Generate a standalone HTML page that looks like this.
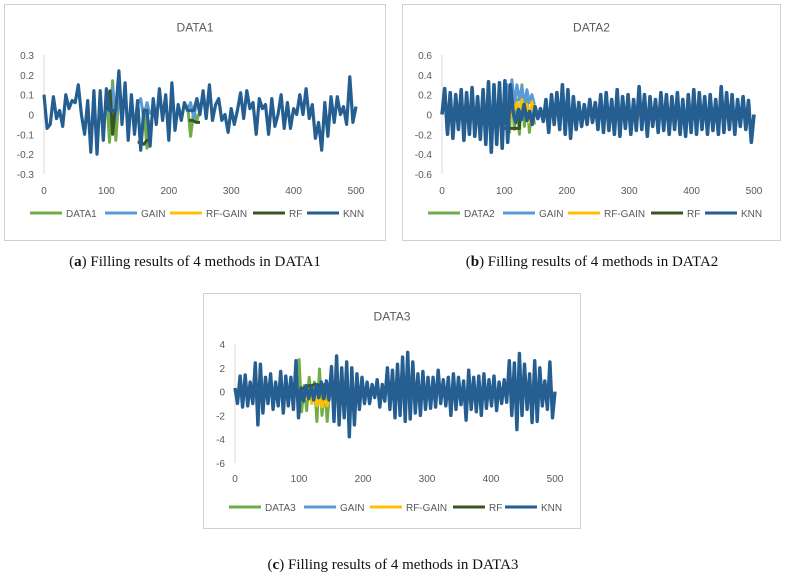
<!DOCTYPE html>
<html><head><meta charset="utf-8">
<style>
body{margin:0;background:#fff;width:785px;height:582px;overflow:hidden;font-family:"Liberation Sans",sans-serif}
svg{position:absolute;left:0;top:0}
.cap{position:absolute;font-family:"Liberation Serif",serif;font-size:15px;color:#111;white-space:nowrap;transform:translateX(-50%)}
</style></head><body>
<svg id="fig" width="785" height="582"></svg>
<div class="cap" style="left:195px;top:254px">(<b>a</b>) Filling results of 4 methods in DATA1</div>
<div class="cap" style="left:592px;top:254px">(<b>b</b>) Filling results of 4 methods in DATA2</div>
<div class="cap" style="left:393px;top:557px">(<b>c</b>) Filling results of 4 methods in DATA3</div>
<script>
// ---- DATA1 ----
const knn1=[0.1,-0.07,-0.05,0.09,-0.02,0.02,-0.06,0.1,0.03,0.07,0.06,0.15,0.0,-0.1,0.07,-0.19,0.12,-0.2,0.12,-0.13,0.13,0.02,0.02,0.02,0.22,-0.05,0.16,-0.13,0.1,-0.1,0.07,-0.18,0.02,0.02,-0.16,0.08,-0.05,0.13,-0.03,0.1,-0.13,0.16,-0.08,0.05,-0.03,0.06,0.02,0.02,0.02,0.08,0.0,0.12,-0.02,0.15,-0.03,0.05,0.08,-0.03,0.0,-0.09,0.03,-0.05,0.02,0.11,-0.02,0.12,0.03,0.06,-0.1,0.08,0.03,0.05,-0.1,0.08,-0.06,0.0,0.1,-0.07,0.06,-0.07,0.03,0.0,0.1,0.0,0.13,-0.02,0.05,-0.12,-0.04,-0.18,0.06,-0.11,0.09,-0.04,0.09,0.0,0.04,-0.05,0.19,-0.04,0.04];
const act1X=[100,105,110,115,120,150,155,160,165,170,230,235,240,245,250];
const act1=[0.13,-0.14,0.17,-0.13,0.1,0.07,-0.17,0.03,-0.17,-0.03,0.05,-0.11,0.02,-0.03,0.02];
const gain1X=[100,105,110,115,120,150,155,160,165,170,230,235,240,245,250];
const gain1=[0.05,0.0,0.14,-0.02,0.1,0.05,0.08,-0.02,0.06,0.0,0.02,0.06,-0.02,0.08,0.02];
const rfg1X=[100,120,150,170,230,250];
const rfg1=[0.02,0.02,0.01,0.01,0.02,0.02];
const rf1X=[102,106,110,114,150,155,160,165,170,232,238,244,250];
const rf1=[0.02,0.12,-0.1,0.02,-0.14,-0.14,-0.15,-0.13,-0.13,-0.03,-0.03,-0.04,-0.04];
// ---- DATA2 ----
const knn2=[0,0.26,-0.2,0.22,-0.24,0.2,-0.15,0.25,-0.26,0.22,-0.2,0.27,-0.22,0.18,-0.25,0.25,-0.3,0.33,-0.38,0.3,-0.3,0.32,-0.34,0.34,-0.28,0.3,
0.02,-0.08,0.05,-0.05,0.1,-0.06,0.03,-0.1,0.08,-0.04,0.06,-0.07,
0.15,-0.18,0.2,-0.1,0.22,-0.15,0.3,-0.2,0.25,-0.24,0.18,-0.15,0.12,-0.12,0.1,-0.1,0.15,-0.08,0.12,-0.15,0.2,-0.18,0.22,-0.16,0.15,-0.2,0.25,-0.22,0.18,-0.14,0.2,-0.2,0.15,-0.16,0.28,-0.15,0.2,-0.22,0.18,-0.12,0.15,-0.18,0.22,-0.16,0.2,-0.2,0.18,-0.15,0.22,-0.2,0.15,-0.22,0.2,-0.18,0.25,-0.2,0.22,-0.15,0.18,-0.2,0.2,-0.16,0.15,-0.2,0.28,-0.18,0.22,-0.15,0.2,-0.2,0.15,-0.12,0.18,-0.15,0.14,-0.28,0.0];
const act2X=[100,104,108,112,116,120,124,128,132,136,140,144,148];
const act2=[-0.1,0.3,-0.18,0.2,-0.15,0.15,-0.2,0.3,-0.12,0.2,-0.18,0.1,-0.1];
const gain2X=[100,104,108,112,116,120,124,128,132,136,140,144,148];
const gain2=[0.1,0.3,0.12,0.35,0.1,0.3,0.15,0.28,0.1,0.25,0.12,0.2,0.1];
const rfg2X=[100,104,108,112,116,120,124,128,132,136,140,144,148];
const rfg2=[-0.05,0.0,-0.08,0.1,0.05,0.12,-0.05,0.15,0.0,0.1,-0.08,0.13,0.0];
const rf2X=[100,105,110,115,120,124,125];
const rf2=[-0.14,-0.14,-0.14,-0.14,-0.14,-0.14,0.0];
// ---- DATA3 ----
const knn3=[0.3,-1,1.3,-1.3,1.4,-1.2,0.8,-1,2.4,-2.8,2.3,-1.8,1.2,-1,1.5,-1.5,0.8,-1.2,1.7,-1.8,1.3,-1.2,1.2,-1.5,2.6,-2.2,
0.3,-0.8,0.5,-0.6,0.4,-0.7,0.6,-0.5,0.8,-0.6,0.9,-0.7,
2.1,-2.5,3.0,-2.8,2.0,-2.2,2.5,-3.8,2.0,-2.8,1.5,-1.5,1.2,-1,0.8,-1.0,0.6,-0.5,1.0,-1.3,0.6,-0.8,2.0,-1.5,1.8,-2.2,2.3,-2.0,2.9,-2.5,3.3,-2.3,2.5,-1.8,1.5,-2.0,1.7,-1.5,1.2,-1.4,1.2,-1.3,1.8,-1.0,1.0,-1.2,1.2,-2.0,1.5,-1.5,1.2,-1.1,0.9,-2.4,1.8,-1.5,1.2,-1.7,1.3,-2.0,1.5,-1.4,1.0,-1.2,1.3,-1.6,0.8,-1.0,1.0,-0.9,2.6,-2.0,2.4,-3.2,3.2,-2.0,2.3,-1.5,1.5,-2.6,2.6,-2.5,2.0,-1.2,0.9,-1.5,2.5,-2.2,0.0];
const act3X=[100,104,108,112,116,120,124,128,132,136,140,144,148];
const act3=[2.8,-1.7,0.5,-1.6,1.2,-1.0,0.8,-2.5,1.9,-2.0,0.5,-2.5,0.3];
const gain3X=[100,148];
const gain3=[0.2,0.2];
const rfg3X=[100,104,108,112,116,120,124,128,132,136,140,144,148];
const rfg3=[-0.3,-0.8,0,-0.6,-0.2,-1,0,-1.2,-0.5,-1.3,-0.6,-1.2,0];
const rf3X=[100,104,108,112,116,120,124,128,132,136,140,144,148];
const rf3=[0,0.2,0.3,0.4,0.5,0.5,0.6,0.6,0.5,0.5,0.6,0.4,0.3];
const xTicks=[0,100,200,300,400,500];
const yTicks1=[0.3,0.2,0.1,0,-0.1,-0.2,-0.3];
const yTicks2=[0.6,0.4,0.2,0,-0.2,-0.4,-0.6];
const yTicks3=[4,2,0,-2,-4,-6];

const NS='http://www.w3.org/2000/svg';
const svg=document.getElementById('fig');
const COL={act:'#70ad47',gain:'#5b9bd5',rfg:'#ffc000',rf:'#375623',knn:'#255e91'};
function mk(tag,attrs,parent){const e=document.createElementNS(NS,tag);for(const k in attrs)e.setAttribute(k,attrs[k]);(parent||svg).appendChild(e);return e;}
function chart(c){
  const g=mk('g',{});
  
  
  const box=mk('rect',{x:c.bx,y:c.by,width:c.bw,height:c.bh,fill:'#fff',stroke:'#d0d0d0','stroke-width':1},g);
  
  
  const t=mk('text',{x:c.bx+c.bw/2,y:c.by+27,'text-anchor':'middle','font-size':12,fill:'#595959'},g);
  t.textContent=c.title;
  
  
  const ymax=c.yt[0],ymin=c.yt[c.yt.length-1];
  const X=v=>c.x0+(v/500)*(c.x1-c.x0);
  const Y=v=>c.yTop+(ymax-v)/(ymax-ymin)*(c.yBot-c.yTop);
  const ax=mk('line',{x1:c.x0,x2:c.x0,y1:Y(ymax),y2:Y(ymin),stroke:'#d9d9d9','stroke-width':1},g);
  
  
  c.yt.forEach(v=>{const e=mk('text',{x:c.x0-10,y:Y(v)+4,'text-anchor':'end','font-size':10,fill:'#595959'},g);e.textContent=String(v);
    
    });
  xTicks.forEach(v=>{const e=mk('text',{x:X(v),y:c.xl,'text-anchor':'middle','font-size':10,fill:'#595959'},g);e.textContent=String(v);
    
    });
  function line(xs,ys,col,name,w){
    let d='';
    ys.forEach((v,i)=>{
      const brk=i===0||xs[i]-xs[i-1]>12;
      d+=(brk?'M':'L')+X(xs[i]).toFixed(1)+','+Y(v).toFixed(1);
    });
    const e=mk('path',{d:d,fill:'none',stroke:col,'stroke-width':w,'stroke-linejoin':'round'},g);
    
    
  }
  line(c.actX,c.act,COL.act,'series-actual',3);
  line(c.gainX,c.gain,COL.gain,'series-gain',3);
  line(c.rfgX,c.rfg,COL.rfg,'series-rf-gain',3);
  line(c.rfX,c.rf,COL.rf,'series-rf',3);
  const kx=c.knn.map((v,i)=>i*500/(c.knn.length-1));
  line(kx,c.knn,COL.knn,'series-knn',c.kw);
  const labels=[c.title,'GAIN','RF-GAIN','RF','KNN'],cols=[COL.act,COL.gain,COL.rfg,COL.rf,COL.knn];
  labels.forEach((l,i)=>{
    const lx=c.lx[i];
    const s=mk('line',{x1:lx,x2:lx+32,y1:c.ly,y2:c.ly,stroke:cols[i],'stroke-width':3},g);
    
    
    const tx=mk('text',{x:lx+36,y:c.ly+4,'font-size':10,fill:'#595959'},g);tx.textContent=l;
    
    
  });
}
chart({id:'chart-data1',title:'DATA1',bx:4.5,by:4.5,bw:381,bh:236,x0:44,x1:356,yTop:55,yBot:174,yt:yTicks1,xl:194,ly:213,lx:[30,105,170,253,307],kw:3.2,
  knn:knn1,actX:act1X,act:act1,gainX:gain1X,gain:gain1,rfgX:rfg1X,rfg:rfg1,rfX:rf1X,rf:rf1});
chart({id:'chart-data2',title:'DATA2',bx:402.5,by:4.5,bw:378,bh:236,x0:442,x1:754,yTop:55,yBot:174,yt:yTicks2,xl:194,ly:213,lx:[428,503,568,651,705],kw:3.6,
  knn:knn2,actX:act2X,act:act2,gainX:gain2X,gain:gain2,rfgX:rfg2X,rfg:rfg2,rfX:rf2X,rf:rf2});
chart({id:'chart-data3',title:'DATA3',bx:203.5,by:293.5,bw:377,bh:235,x0:235,x1:555,yTop:344,yBot:463,yt:yTicks3,xl:482,ly:507,lx:[229,304,370,453,505],kw:3.4,
  knn:knn3,actX:act3X,act:act3,gainX:gain3X,gain:gain3,rfgX:rfg3X,rfg:rfg3,rfX:rf3X,rf:rf3});
</script>
</body></html>
